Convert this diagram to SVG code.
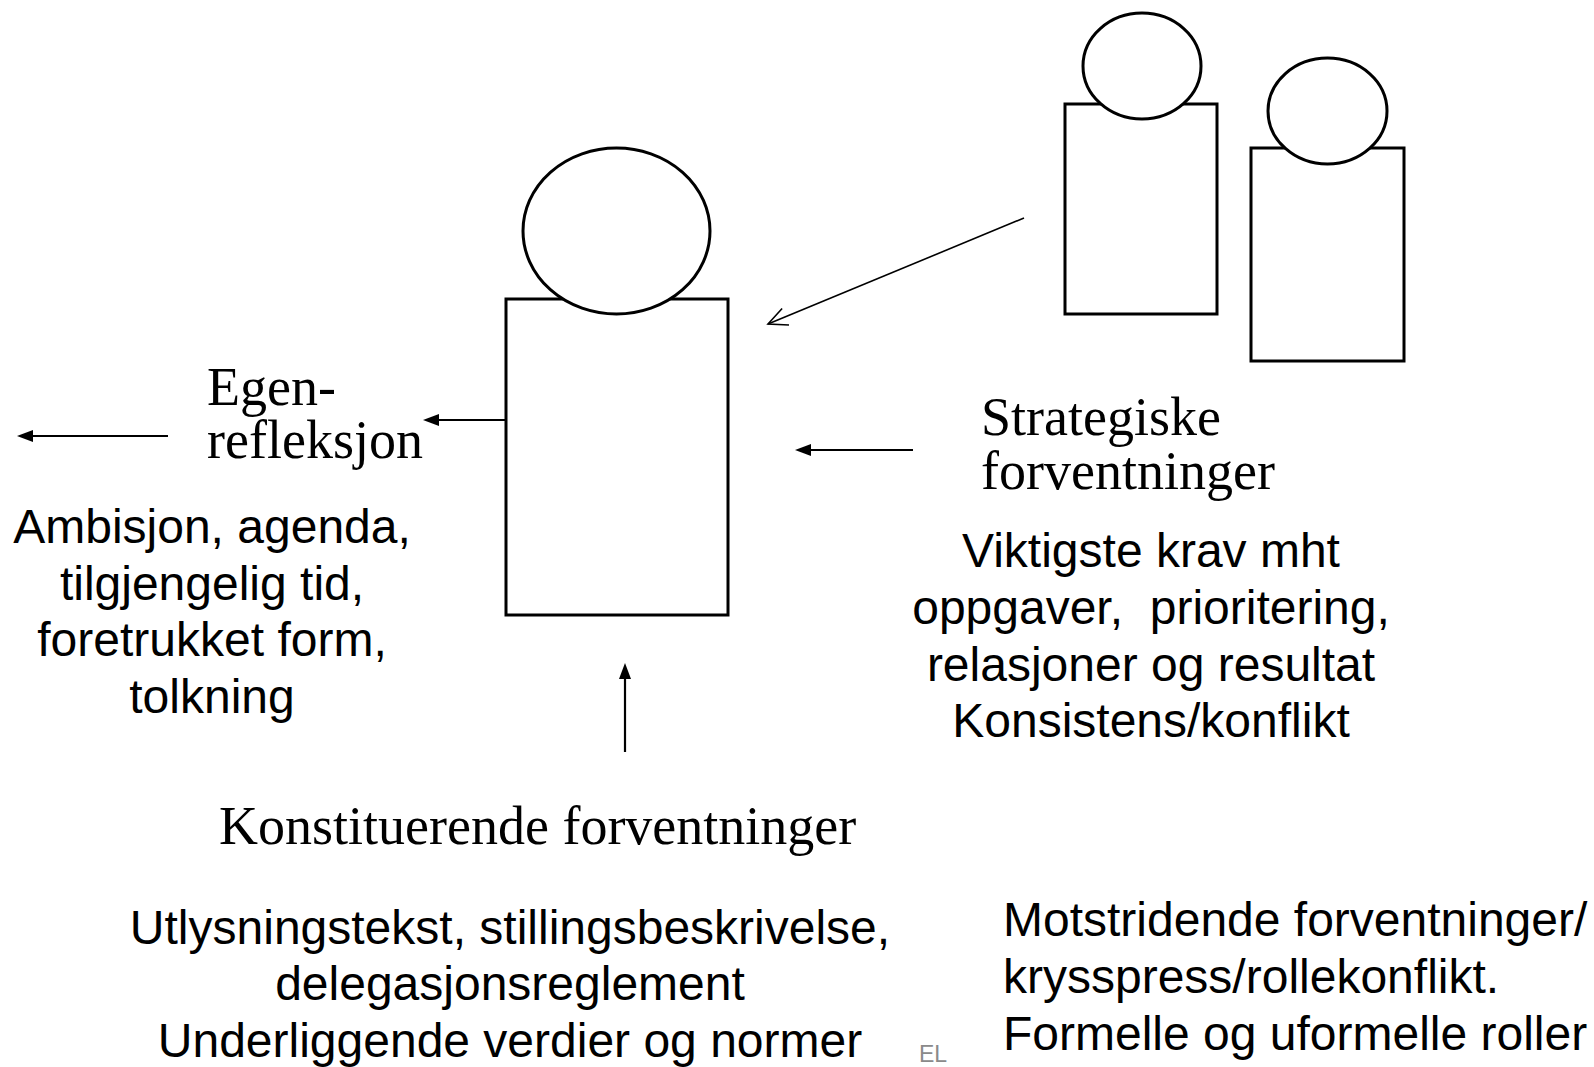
<svg xmlns="http://www.w3.org/2000/svg" width="1594" height="1067" viewBox="0 0 1594 1067">
<style>
.body{fill:#fff;stroke:#000;stroke-width:3}
.head{fill:#fff;stroke:#000;stroke-width:3}
.conn{stroke:#000;stroke-width:2.2;fill:none}
.thin{stroke:#000;stroke-width:1.6;fill:none}
.serif{font-family:"Liberation Serif","Times New Roman",serif;font-size:54px;fill:#000}
.sans{font-family:"Liberation Sans",Arial,sans-serif;font-size:48px;fill:#000}
.mid{text-anchor:middle}
.foot{font-family:"Liberation Sans",Arial,sans-serif;font-size:23px;fill:#8a8a8a}
</style>
<defs>
<marker id="tri" markerUnits="userSpaceOnUse" markerWidth="18" markerHeight="14" refX="0" refY="6" orient="auto"><path d="M0,0 L16,6 L0,12 z" fill="#000"/></marker>
<marker id="vee" markerUnits="userSpaceOnUse" markerWidth="24" markerHeight="24" refX="20" refY="10" orient="auto"><path d="M1,1 L20,10 L1,19" fill="none" stroke="#000" stroke-width="1.6"/></marker>
</defs>
<g id="person-main">
<rect class="body" x="506" y="299" width="222" height="316"/>
<ellipse class="head" cx="616.5" cy="231" rx="93.5" ry="83"/>
</g>
<g id="person-1">
<rect class="body" x="1065" y="104" width="152" height="210"/>
<ellipse class="head" cx="1142" cy="66" rx="59" ry="53"/>
</g>
<g id="person-2">
<rect class="body" x="1251" y="148" width="153" height="213"/>
<ellipse class="head" cx="1327.5" cy="111" rx="59.5" ry="53"/>
</g>
<g id="connectors">
<line class="conn" x1="168" y1="436" x2="33" y2="436" marker-end="url(#tri)"/>
<line class="conn" x1="506" y1="420" x2="439" y2="420" marker-end="url(#tri)"/>
<line class="conn" x1="913" y1="450" x2="811" y2="450" marker-end="url(#tri)"/>
<line class="conn" x1="625" y1="752" x2="625" y2="679" marker-end="url(#tri)"/>
<line class="thin" x1="1024" y1="218" x2="768" y2="324" marker-end="url(#vee)"/>
</g>
<g id="egen">
<text class="serif" x="207" y="405">Egen-</text>
<text class="serif" x="207" y="458">refleksjon</text>
</g>
<g id="strategiske">
<text class="serif" x="981" y="435">Strategiske</text>
<text class="serif" x="981" y="489">forventninger</text>
</g>
<g id="konstituerende">
<text class="serif" x="219" y="844">Konstituerende forventninger</text>
</g>
<g id="egen-desc">
<text class="sans mid" x="212" y="543">Ambisjon, agenda,</text>
<text class="sans mid" x="212" y="600">tilgjengelig tid,</text>
<text class="sans mid" x="212" y="656">foretrukket form,</text>
<text class="sans mid" x="212" y="713">tolkning</text>
</g>
<g id="strategiske-desc">
<text class="sans mid" x="1151" y="567">Viktigste krav mht</text>
<text class="sans mid" x="1151" y="624" xml:space="preserve">oppgaver,  prioritering,</text>
<text class="sans mid" x="1151" y="681">relasjoner og resultat</text>
<text class="sans mid" x="1151" y="737">Konsistens/konflikt</text>
</g>
<g id="konstituerende-desc">
<text class="sans mid" x="510" y="944">Utlysningstekst, stillingsbeskrivelse,</text>
<text class="sans mid" x="510" y="1000">delegasjonsreglement</text>
<text class="sans mid" x="510" y="1057">Underliggende verdier og normer</text>
</g>
<g id="konflikt-desc">
<text class="sans" x="1003" y="936">Motstridende forventninger/</text>
<text class="sans" x="1003" y="993">krysspress/rollekonflikt.</text>
<text class="sans" x="1003" y="1050">Formelle og uformelle roller</text>
</g>
<text class="foot" x="919" y="1062">EL</text>
</svg>
